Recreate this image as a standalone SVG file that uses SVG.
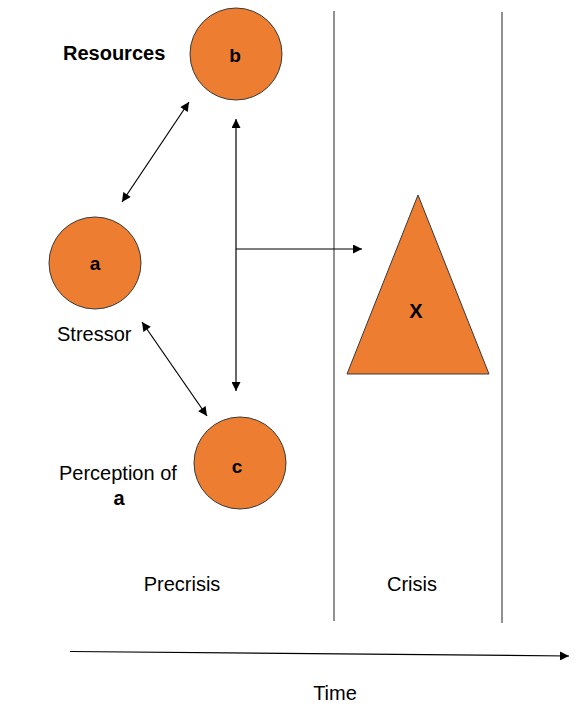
<svg xmlns="http://www.w3.org/2000/svg" width="583" height="714" viewBox="0 0 583 714">
<style>
.node{fill:#ED7D31;stroke:#3a3a3a;stroke-width:1}
.lbl{font-family:"Liberation Sans",Arial,sans-serif;font-size:20px;fill:#000}
.b{font-weight:bold}
.in{font-family:"Liberation Sans",Arial,sans-serif;font-size:19px;font-weight:bold;fill:#000;text-anchor:middle}
.c{fill:none;stroke:#000;stroke-width:1.2}
.sep{fill:none;stroke:#555;stroke-width:1.3}
</style>
<defs>
<marker id="ah" viewBox="0 0 10 10" refX="10" refY="5" markerWidth="10" markerHeight="9" markerUnits="userSpaceOnUse" orient="auto-start-reverse">
<path d="M0,0 L10,5 L0,10 Z" fill="#000"/>
</marker>
</defs>
<rect width="583" height="714" fill="#fff"/>
<g id="separators">
<line class="sep" x1="334" y1="11" x2="334" y2="621"/>
<line class="sep" x1="502" y1="12" x2="502" y2="623"/>
</g>
<g id="node-b">
<circle class="node" cx="236" cy="54" r="46"/>
<text class="in" x="235" y="62">b</text>
</g>
<g id="label-resources"><text class="lbl b" x="63" y="60">Resources</text></g>
<g id="node-a">
<circle class="node" cx="95" cy="263" r="46"/>
<text class="in" x="95" y="270">a</text>
</g>
<g id="label-stressor"><text class="lbl" x="57" y="341">Stressor</text></g>
<g id="node-c">
<circle class="node" cx="240" cy="463" r="46"/>
<text class="in" x="237" y="473">c</text>
</g>
<g id="label-perception">
<text class="lbl" x="59" y="480">Perception of</text>
<text class="lbl b" x="119" y="505" text-anchor="middle">a</text>
</g>
<g id="node-x">
<polygon class="node" points="418,195 489,374 347,374"/>
<text class="lbl b" x="416" y="318" text-anchor="middle">X</text>
</g>
<g id="connectors">
<line class="c" x1="122" y1="202" x2="189" y2="102" marker-start="url(#ah)" marker-end="url(#ah)"/>
<line class="c" x1="142" y1="322" x2="207" y2="416" marker-start="url(#ah)" marker-end="url(#ah)"/>
<line class="c" x1="236" y1="119" x2="236" y2="391" marker-start="url(#ah)" marker-end="url(#ah)"/>
<line class="c" x1="236" y1="249" x2="362" y2="249" marker-end="url(#ah)"/>
<line class="c" x1="70" y1="651.5" x2="569" y2="656" marker-end="url(#ah)"/>
</g>
<g id="phase-labels">
<text class="lbl" x="182" y="591" text-anchor="middle">Precrisis</text>
<text class="lbl" x="412" y="591" text-anchor="middle">Crisis</text>
<text class="lbl" x="335" y="700" text-anchor="middle">Time</text>
</g>
</svg>
